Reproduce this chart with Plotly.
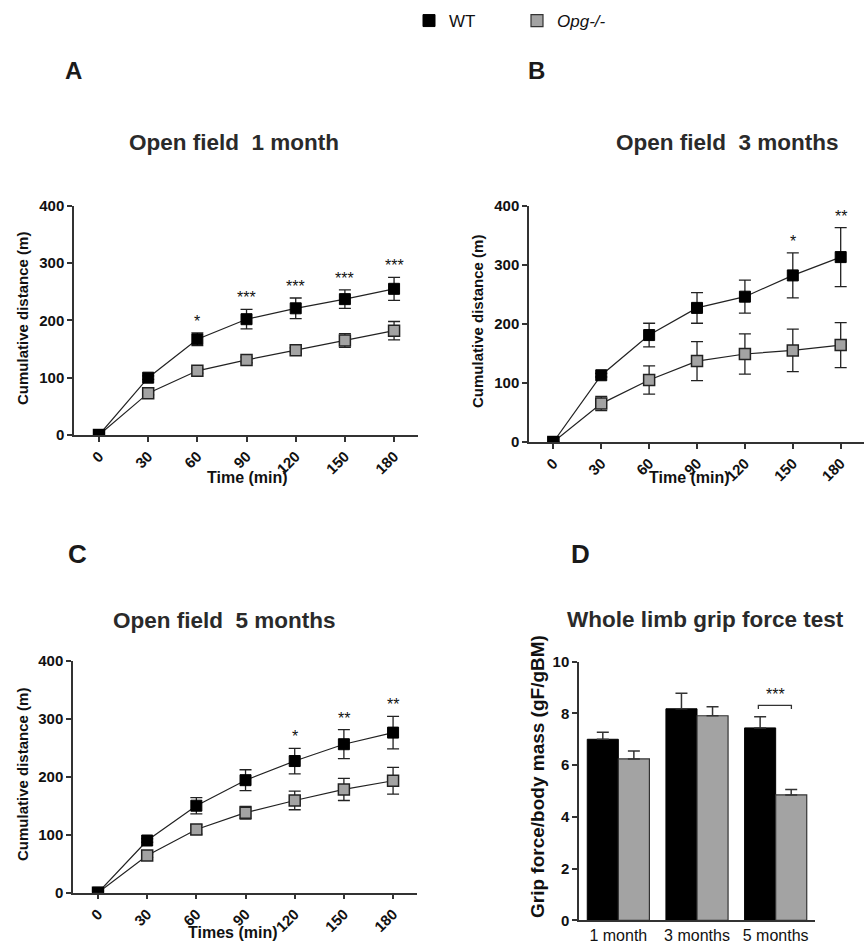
import plotly.graph_objects as go

W, H = 864, 943
FONT = "Liberation Sans, Arial, Helvetica, sans-serif"

# ---------------- data ----------------
times = [0, 30, 60, 90, 120, 150, 180]

wt_1m = [0, 100, 167, 202, 221, 237, 255]
wt_1m_err = [0, 3, 11, 17, 18, 16, 20]
opg_1m = [0, 73, 112, 131, 148, 165, 182]
opg_1m_err = [0, 3, 4, 5, 4, 12, 16]
stars_1m = ["", "", "*", "***", "***", "***", "***"]

wt_3m = [0, 113, 181, 227, 246, 282, 313]
wt_3m_err = [0, 3, 20, 26, 28, 38, 50]
opg_3m = [0, 65, 105, 137, 149, 155, 164]
opg_3m_err = [0, 12, 24, 33, 34, 36, 38]
stars_3m = ["", "", "", "", "", "*", "**"]

wt_5m = [0, 90, 150, 194, 227, 256, 276]
wt_5m_err = [0, 3, 14, 18, 22, 25, 28]
opg_5m = [0, 64, 109, 138, 159, 178, 193]
opg_5m_err = [0, 3, 8, 11, 16, 19, 23]
stars_5m = ["", "", "", "", "*", "**", "**"]

grip_ages = ["1 month", "3 months", "5 months"]
grip_wt = [7.0, 8.18, 7.44]
grip_wt_err = [0.27, 0.60, 0.43]
grip_opg = [6.24, 7.91, 4.85]
grip_opg_err = [0.31, 0.35, 0.21]
grip_stars = ["", "", "***"]

# ---------------- helpers ----------------
def px(x):
    return x / W

def py(y):
    return 1 - y / H

BLACK = "#000000"
GRAY = "#a3a3a3"
EDGE = "#222222"

fig = go.Figure()

panels = [
    ("x", "y", wt_1m, wt_1m_err, opg_1m, opg_1m_err, stars_1m),
    ("x2", "y2", wt_3m, wt_3m_err, opg_3m, opg_3m_err, stars_3m),
    ("x3", "y3", wt_5m, wt_5m_err, opg_5m, opg_5m_err, stars_5m),
]

annotations = []
for xa, ya, wt, wte, opg, opge, stars in panels:
    fig.add_trace(go.Scatter(
        x=times, y=opg, xaxis=xa, yaxis=ya, mode="lines+markers",
        line=dict(color=EDGE, width=1.2),
        marker=dict(symbol="square", size=11, color=GRAY, line=dict(color=EDGE, width=1.5)),
        error_y=dict(type="data", array=opge, color=EDGE, thickness=1.3, width=6),
        showlegend=False, name="Opg-/-"))
    fig.add_trace(go.Scatter(
        x=times, y=wt, xaxis=xa, yaxis=ya, mode="lines+markers",
        line=dict(color=EDGE, width=1.2),
        marker=dict(symbol="square", size=11, color=BLACK, line=dict(color=BLACK, width=1)),
        error_y=dict(type="data", array=wte, color=EDGE, thickness=1.3, width=6),
        showlegend=False, name="WT"))
    for t, v, e, s in zip(times, wt, wte, stars):
        if s:
            annotations.append(dict(x=t, y=v + e, xref=xa, yref=ya, text=s,
                                    showarrow=False, yanchor="bottom", yshift=1,
                                    font=dict(size=16, color="#111", family=FONT)))

# bar chart (panel D)
gx = list(range(len(grip_ages)))
fig.add_trace(go.Bar(
    x=gx, y=grip_wt, xaxis="x4", yaxis="y4", name="WT",
    marker=dict(color=BLACK, line=dict(color=BLACK, width=1)),
    error_y=dict(type="data", array=grip_wt_err, arrayminus=[0] * 3, symmetric=False,
                 color="#333", thickness=1.5, width=6),
    offsetgroup="wt"))
fig.add_trace(go.Bar(
    x=gx, y=grip_opg, xaxis="x4", yaxis="y4", name="<i>Opg-/-</i>",
    marker=dict(color=GRAY, line=dict(color="#333", width=1.2)),
    error_y=dict(type="data", array=grip_opg_err, arrayminus=[0] * 3, symmetric=False,
                 color="#333", thickness=1.5, width=6),
    offsetgroup="opg"))

for i, s in enumerate(grip_stars):
    if s:
        top = max(grip_wt[i] + grip_wt_err[i], grip_opg[i] + grip_opg_err[i])
        by = top + 0.44
        fig.add_trace(go.Scatter(
            x=[i - 0.22, i - 0.22, i + 0.2, i + 0.2],
            y=[by - 0.14, by, by, by - 0.14], xaxis="x4", yaxis="y4",
            mode="lines", line=dict(color="#333", width=1.3),
            showlegend=False, hoverinfo="skip"))
        annotations.append(dict(x=i, y=by, xref="x4", yref="y4", text=s,
                                showarrow=False, yanchor="bottom", yshift=0,
                                font=dict(size=16, color="#111", family=FONT)))

# ---------------- axes ----------------
tickfont = dict(family=FONT, size=15, color="#111", weight="bold")
common = dict(showline=True, linecolor="#333", linewidth=1.5, showgrid=False,
              zeroline=False, ticks="outside", ticklen=5, tickwidth=1.5,
              tickcolor="#333", tickfont=tickfont)

def xline(domain):
    return dict(common, domain=domain, range=[-15.25, 194.6], tickvals=times,
                tickangle=-45)

def yline(domain, anchor):
    return dict(common, domain=domain, range=[0, 400], tickvals=[0, 100, 200, 300, 400],
                anchor=anchor)

fig.update_layout(
    xaxis=dict(xline([px(74), px(418)]), anchor="y"),
    yaxis=yline([py(435), py(205.7)], "x"),
    xaxis2=dict(xline([px(529), 1.0]), anchor="y2"),
    yaxis2=yline([py(442), py(205.7)], "x2"),
    xaxis3=dict(xline([px(73), px(417)]), anchor="y3"),
    yaxis3=yline([py(892.7), py(660.7)], "x3"),
    xaxis4=dict(common, domain=[px(579), px(815)], range=[-0.5, 2.5], tickvals=gx,
                ticktext=grip_ages, ticks="", anchor="y4",
                tickfont=dict(family=FONT, size=16, color="#111")),
    yaxis4=dict(common, domain=[py(920.3), py(661.7)], range=[0, 10],
                tickvals=[0, 2, 4, 6, 8, 10], anchor="x4"),
)

# ---------------- text ----------------
def txt(x, y, s, size, bold=True, angle=0, color="#111"):
    annotations.append(dict(x=px(x), y=py(y), xref="paper", yref="paper", text=s,
                            showarrow=False, xanchor="center", yanchor="middle",
                            textangle=angle,
                            font=dict(family=FONT, size=size, color=color,
                                      weight="bold" if bold else "normal")))

NB = "\u00a0"
txt(233.5, 143, f"Open field{NB}{NB}1 month", 22.5, color="#2a2a2a")
txt(727.5, 143, f"Open field{NB}{NB}3 months", 22.5, color="#2a2a2a")
txt(224, 620, f"Open field{NB}{NB}5 months", 22.5, color="#2a2a2a")
txt(705, 619, "Whole limb grip force test", 22.5, color="#2a2a2a")

txt(73, 71, "A", 24, color="#1a1a1a")
txt(536, 71, "B", 24, color="#1a1a1a")
txt(77, 554, "C", 26, color="#1a1a1a")
txt(580, 554, "D", 26, color="#1a1a1a")

txt(22, 319, "Cumulative distance (m)", 15, angle=-90)
txt(477, 322, "Cumulative distance (m)", 15, angle=-90)
txt(22, 775, "Cumulative distance (m)", 15, angle=-90)
txt(537, 777, "Grip force/body mass (gF/gBM)", 19, angle=-90)

txt(247, 477, "Time (min)", 16)
txt(689, 477, "Time (min)", 16)
txt(233, 932, "Times (min)", 16)

fig.update_layout(
    width=W, height=H, margin=dict(l=0, r=0, t=0, b=0, autoexpand=False),
    paper_bgcolor="white", plot_bgcolor="white",
    barmode="group", bargap=0.21, bargroupgap=0,
    annotations=annotations,
    legend=dict(orientation="h", x=px(409), y=py(3), xanchor="left", yanchor="top",
                font=dict(family=FONT, size=17, color="#111"),
                itemwidth=30, entrywidth=63, traceorder="normal"),
    font=dict(family=FONT),
)

fig.write_html("out.html", config={"displayModeBar": False},
               post_script="document.body.style.margin='0';document.body.style.overflow='hidden';")
